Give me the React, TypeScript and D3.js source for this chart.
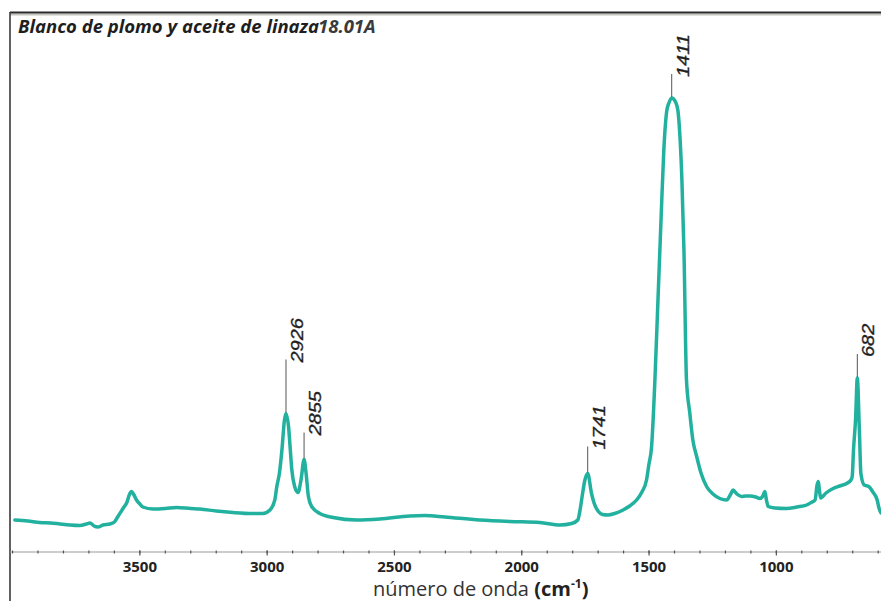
import React from "react";
import * as d3 from "d3";

// FTIR spectrum: lead white with linseed oil (sample 18.01A)
const wavenumber = [
  3991, 3940, 3893, 3850, 3814, 3775, 3736, 3710, 3696, 3680, 3665, 3645, 3618, 3600, 3586,
  3565, 3552, 3540, 3533, 3523, 3513, 3500, 3488, 3449, 3400, 3356, 3300, 3264, 3200, 3135,
  3060, 3017, 2989, 2970, 2962, 2952, 2942, 2932, 2926, 2916, 2909, 2903, 2892, 2879, 2867,
  2855, 2847, 2838, 2825, 2793, 2741, 2649, 2557, 2440, 2381, 2302, 2165, 2047, 1929, 1850,
  1804, 1780, 1771, 1762, 1752, 1741, 1726, 1716, 1699, 1683, 1661, 1635, 1602, 1576, 1549,
  1528, 1510, 1501, 1490, 1477, 1465, 1453, 1442, 1430, 1422, 1411, 1396, 1387, 1379, 1371,
  1363, 1353, 1340, 1328, 1313, 1296, 1274, 1249, 1222, 1196, 1179, 1170, 1155, 1137, 1120,
  1104, 1081, 1065, 1053, 1045, 1039, 1032, 1006, 960, 919, 881, 860, 848, 840, 835,
  831, 826, 805, 777, 752, 724, 707, 702, 697, 689, 682, 674, 668, 655, 637,
  621, 604, 597, 589,
];

const absorbance = [
  0.062, 0.06, 0.057, 0.056, 0.054, 0.052, 0.051, 0.054, 0.056, 0.05, 0.048, 0.052, 0.054, 0.058, 0.069,
  0.086, 0.096, 0.114, 0.119, 0.112, 0.102, 0.094, 0.088, 0.084, 0.085, 0.087, 0.085, 0.084, 0.08, 0.077,
  0.075, 0.075, 0.082, 0.102, 0.129, 0.155, 0.202, 0.262, 0.275, 0.249, 0.202, 0.162, 0.129, 0.117, 0.142,
  0.183, 0.155, 0.109, 0.089, 0.075, 0.067, 0.062, 0.064, 0.07, 0.071, 0.068, 0.062, 0.059, 0.057, 0.052,
  0.055, 0.062, 0.082, 0.112, 0.142, 0.155, 0.115, 0.096, 0.079, 0.073, 0.072, 0.075, 0.082, 0.09, 0.102,
  0.118, 0.142, 0.172, 0.209, 0.342, 0.502, 0.662, 0.802, 0.882, 0.896, 0.906, 0.898, 0.882, 0.832, 0.742,
  0.602, 0.342, 0.276, 0.222, 0.189, 0.156, 0.129, 0.114, 0.105, 0.102, 0.114, 0.122, 0.114, 0.109, 0.11,
  0.11, 0.108, 0.105, 0.11, 0.119, 0.102, 0.089, 0.086, 0.085, 0.088, 0.092, 0.098, 0.102, 0.132, 0.139,
  0.122, 0.106, 0.116, 0.125, 0.13, 0.135, 0.142, 0.149, 0.202, 0.262, 0.346, 0.242, 0.155, 0.132, 0.129,
  0.118, 0.102, 0.086, 0.076,
];

// Annotated band positions (cm-1)
const peakPositions = [2926, 2855, 1741, 1411, 682];
const peakLabels = ["2926", "2855", "1741", "1411", "682"];
const leaderLengths = [53, 26, 26, 23, 23];

const xTicksMajor = [3500, 3000, 2500, 2000, 1500, 1000];
const xTickLabels = ["3500", "3000", "2500", "2000", "1500", "1000"];

const titleMain = "Blanco de plomo y aceite de linaza";
const titleCode = "18.01A";

const W = 881;
const H = 601;
const LEFT = 10;
const RIGHT = 881;
const AXIS_Y = 552;

export default function App() {
  const x = d3.scaleLinear().domain([4010, 589]).range([LEFT, RIGHT]);
  const y = d3.scaleLinear().domain([0, 1]).range([551, 51]);

  const points: [number, number][] = wavenumber.map((w, i) => [w, absorbance[i]]);
  const line = d3
    .line<[number, number]>()
    .x((d) => x(d[0]))
    .y((d) => y(d[1]))
    .curve(d3.curveMonotoneX);

  const minorTicks = d3.range(4000, 589, -100);

  const valueAt = (w: number) => absorbance[wavenumber.indexOf(w)];

  return (
    <svg
      width={W}
      height={H}
      style={{ position: "absolute", left: 0, top: 0, background: "#fff" }}
    >
      <defs>
        <clipPath id="plot">
          <rect x={LEFT} y={12} width={RIGHT - LEFT} height={H - 12} />
        </clipPath>
      </defs>

      {/* frame */}
      <line x1={LEFT} y1={14.5} x2={W} y2={14.5} stroke="#c4c4be" strokeWidth={2} />
      <line x1={LEFT} y1={12.5} x2={W} y2={12.5} stroke="#2a2a2a" strokeWidth={2} />
      <line x1={LEFT} y1={12} x2={LEFT} y2={H} stroke="#3a3a3a" strokeWidth={1.6} />

      {/* title */}
      <text
        x={18}
        y={33}
        fontFamily="'Open Sans', sans-serif"
        fontWeight={700}
        fontStyle="italic"
        fontSize={18.5}
        fill="#1e1e1e"
      >
        {titleMain}
      </text>
      <text
        x={318}
        y={33}
        fontFamily="'Open Sans', sans-serif"
        fontWeight={700}
        fontStyle="italic"
        fontSize={18.5}
        fill="#3a3a3a"
      >
        {titleCode}
      </text>

      {/* x axis */}
      <line x1={LEFT} y1={AXIS_Y} x2={RIGHT} y2={AXIS_Y} stroke="#9a9a9a" strokeWidth={1.2} />
      {minorTicks.map((t) => (
        <line
          key={`m${t}`}
          x1={x(t)}
          x2={x(t)}
          y1={AXIS_Y - 1.5}
          y2={AXIS_Y + 1.5}
          stroke="#555"
          strokeWidth={1.2}
        />
      ))}
      {xTicksMajor.map((t, i) => (
        <g key={`M${t}`}>
          <line x1={x(t)} x2={x(t)} y1={AXIS_Y - 1.5} y2={AXIS_Y + 3.5} stroke="#555" strokeWidth={1.2} />
          <text
            x={x(t)}
            y={572}
            textAnchor="middle"
            fontFamily="'Open Sans', sans-serif"
            fontWeight={700}
            fontSize={15}
            fill="#222"
          >
            {xTickLabels[i]}
          </text>
        </g>
      ))}

      {/* axis title */}
      <text
        x={373}
        y={596}
        fontFamily="'Open Sans', sans-serif"
        fontSize={20}
        fill="#333"
      >
        <tspan>número de onda </tspan>
        <tspan fontWeight={700} fill="#222">(cm</tspan>
        <tspan fontWeight={700} fontSize={12} dy={-8} fill="#222">-1</tspan>
        <tspan fontWeight={700} dy={8} fill="#222">)</tspan>
      </text>

      {/* spectrum */}
      <path
        d={line(points) ?? ""}
        fill="none"
        stroke="#22b19f"
        strokeWidth={3.5}
        strokeLinejoin="round"
        strokeLinecap="round"
        clipPath="url(#plot)"
      />

      {/* band annotations */}
      {peakPositions.map((p, i) => {
        const px = x(p);
        const py = y(valueAt(p)) - 1;
        const top = py - leaderLengths[i];
        return (
          <g key={`p${p}`}>
            <line x1={px} x2={px} y1={py} y2={top} stroke="#555" strokeWidth={1} />
            <text
              transform={`translate(${px + 17},${top + 3}) rotate(-90) scale(1,0.85)`}
              fontFamily="'Liberation Sans', Arial, sans-serif"
              fontStyle="italic"
              fontSize={20}
              fill="#1e1e1e"
              stroke="#1e1e1e"
              strokeWidth={0.4}
            >
              {peakLabels[i]}
            </text>
          </g>
        );
      })}
    </svg>
  );
}
